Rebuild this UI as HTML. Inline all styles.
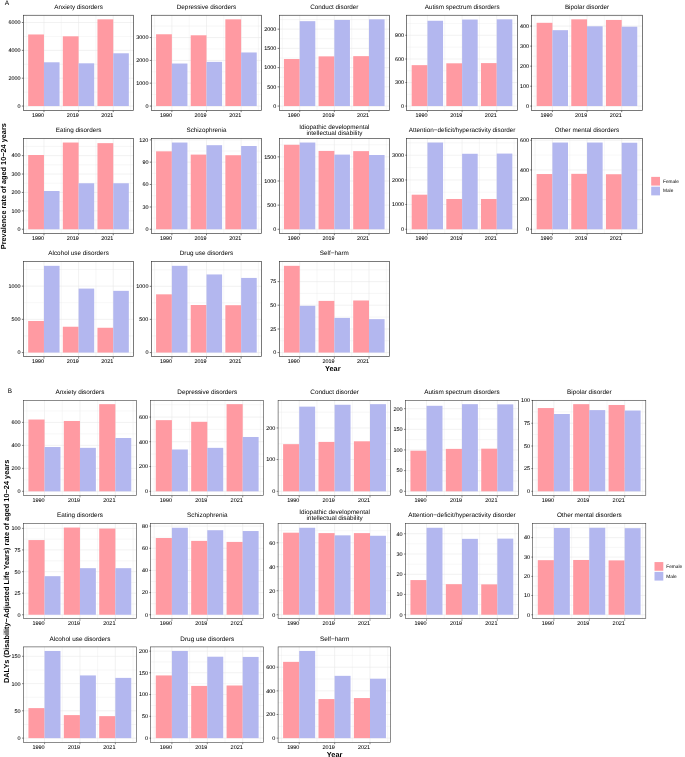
<!DOCTYPE html>
<html lang="en"><head><meta charset="utf-8"><title>Figure</title>
<style>html,body{margin:0;padding:0;background:#fff}svg{display:block}</style></head>
<body>
<svg width="685" height="757" viewBox="0 0 685 757" font-family="'Liberation Sans', sans-serif" text-rendering="geometricPrecision">
<rect width="685" height="757" fill="#fff"/>
<rect x="23.35" y="15.25" width="110.5" height="95.35" fill="#fff"/>
<path d="M23.35 36.43H133.85M23.35 64.29H133.85M23.35 92.14H133.85M26.64 15.25V110.6M61.28 15.25V110.6M95.92 15.25V110.6M130.56 15.25V110.6" stroke="#E9E9E9" stroke-width="0.35" fill="none"/>
<path d="M23.35 22.5H133.85M23.35 50.37H133.85M23.35 78.21H133.85M23.35 106.07H133.85M43.96 15.25V110.6M78.6 15.25V110.6M113.24 15.25V110.6" stroke="#E9E9E9" stroke-width="0.6" fill="none"/>
<rect x="28.17" y="34.47" width="15.79" height="71.59" fill="#FF9AA2"/>
<rect x="43.96" y="62.29" width="15.59" height="43.78" fill="#B3B7EF"/>
<rect x="62.81" y="36.31" width="15.79" height="69.75" fill="#FF9AA2"/>
<rect x="78.6" y="63.31" width="15.59" height="42.75" fill="#B3B7EF"/>
<rect x="97.45" y="19.33" width="15.79" height="86.73" fill="#FF9AA2"/>
<rect x="113.24" y="53.29" width="15.59" height="52.78" fill="#B3B7EF"/>
<rect x="23.5" y="15.25" width="110" height="95.25" fill="none" stroke="#333" stroke-width="0.65"/>
<path d="M21.85 22.5H23.35M21.85 50.37H23.35M21.85 78.21H23.35M21.85 106.07H23.35M43.96 110.6V112.1M78.6 110.6V112.1M113.24 110.6V112.1" stroke="#333" stroke-width="0.65" fill="none"/>
<text x="20.5" y="107.92" text-anchor="end" font-size="5.42" fill="#000" stroke="#000" stroke-width="0.06">0</text>
<text x="20.5" y="80.06" text-anchor="end" font-size="5.42" fill="#000" stroke="#000" stroke-width="0.06">2000</text>
<text x="20.5" y="52.22" text-anchor="end" font-size="5.42" fill="#000" stroke="#000" stroke-width="0.06">4000</text>
<text x="20.5" y="24.35" text-anchor="end" font-size="5.42" fill="#000" stroke="#000" stroke-width="0.06">6000</text>
<text x="44.06" y="116.7" text-anchor="end" font-size="5.42" fill="#000" stroke="#000" stroke-width="0.06">1990</text>
<text x="78.7" y="116.7" text-anchor="end" font-size="5.42" fill="#000" stroke="#000" stroke-width="0.06">2019</text>
<text x="113.34" y="116.7" text-anchor="end" font-size="5.42" fill="#000" stroke="#000" stroke-width="0.06">2021</text>
<text x="78.6" y="8.6" text-anchor="middle" font-size="6.33" fill="#000">Anxiety disorders</text>
<rect x="151.25" y="15.25" width="110.5" height="95.35" fill="#fff"/>
<path d="M151.25 48.99H261.75M151.25 71.8H261.75M151.25 94.61H261.75M151.25 26.08H261.75M154.54 15.25V110.6M189.18 15.25V110.6M223.82 15.25V110.6M258.46 15.25V110.6" stroke="#E9E9E9" stroke-width="0.35" fill="none"/>
<path d="M151.25 37.54H261.75M151.25 60.45H261.75M151.25 83.16H261.75M151.25 106.07H261.75M171.86 15.25V110.6M206.5 15.25V110.6M241.14 15.25V110.6" stroke="#E9E9E9" stroke-width="0.6" fill="none"/>
<rect x="156.07" y="34.27" width="15.79" height="71.8" fill="#FF9AA2"/>
<rect x="171.86" y="63.52" width="15.59" height="42.55" fill="#B3B7EF"/>
<rect x="190.71" y="35.29" width="15.79" height="70.78" fill="#FF9AA2"/>
<rect x="206.5" y="61.88" width="15.59" height="44.18" fill="#B3B7EF"/>
<rect x="225.35" y="19.33" width="15.79" height="86.73" fill="#FF9AA2"/>
<rect x="241.14" y="52.47" width="15.59" height="53.59" fill="#B3B7EF"/>
<rect x="151.5" y="15.25" width="110" height="95.25" fill="none" stroke="#333" stroke-width="0.65"/>
<path d="M149.75 37.54H151.25M149.75 60.45H151.25M149.75 83.16H151.25M149.75 106.07H151.25M171.86 110.6V112.1M206.5 110.6V112.1M241.14 110.6V112.1" stroke="#333" stroke-width="0.65" fill="none"/>
<text x="148.4" y="107.92" text-anchor="end" font-size="5.42" fill="#000" stroke="#000" stroke-width="0.06">0</text>
<text x="148.4" y="85.01" text-anchor="end" font-size="5.42" fill="#000" stroke="#000" stroke-width="0.06">1000</text>
<text x="148.4" y="62.3" text-anchor="end" font-size="5.42" fill="#000" stroke="#000" stroke-width="0.06">2000</text>
<text x="148.4" y="39.39" text-anchor="end" font-size="5.42" fill="#000" stroke="#000" stroke-width="0.06">3000</text>
<text x="171.96" y="116.7" text-anchor="end" font-size="5.42" fill="#000" stroke="#000" stroke-width="0.06">1990</text>
<text x="206.6" y="116.7" text-anchor="end" font-size="5.42" fill="#000" stroke="#000" stroke-width="0.06">2019</text>
<text x="241.24" y="116.7" text-anchor="end" font-size="5.42" fill="#000" stroke="#000" stroke-width="0.06">2021</text>
<text x="206.5" y="8.6" text-anchor="middle" font-size="6.33" fill="#000">Depressive disorders</text>
<rect x="279.1" y="15.25" width="110.5" height="95.35" fill="#fff"/>
<path d="M279.1 38.77H389.6M279.1 58H389.6M279.1 77.22H389.6M279.1 96.45H389.6M279.1 19.54H389.6M282.39 15.25V110.6M317.03 15.25V110.6M351.67 15.25V110.6M386.31 15.25V110.6" stroke="#E9E9E9" stroke-width="0.35" fill="none"/>
<path d="M279.1 29.15H389.6M279.1 48.38H389.6M279.1 67.61H389.6M279.1 86.84H389.6M279.1 106.07H389.6M299.71 15.25V110.6M334.35 15.25V110.6M368.99 15.25V110.6" stroke="#E9E9E9" stroke-width="0.6" fill="none"/>
<rect x="283.92" y="59.02" width="15.79" height="47.05" fill="#FF9AA2"/>
<rect x="299.71" y="21.18" width="15.59" height="84.89" fill="#B3B7EF"/>
<rect x="318.56" y="56.36" width="15.79" height="49.71" fill="#FF9AA2"/>
<rect x="334.35" y="19.95" width="15.59" height="86.12" fill="#B3B7EF"/>
<rect x="353.2" y="56.15" width="15.79" height="49.91" fill="#FF9AA2"/>
<rect x="368.99" y="19.33" width="15.59" height="86.73" fill="#B3B7EF"/>
<rect x="279.5" y="15.25" width="110" height="95.25" fill="none" stroke="#333" stroke-width="0.65"/>
<path d="M277.6 29.15H279.1M277.6 48.38H279.1M277.6 67.61H279.1M277.6 86.84H279.1M277.6 106.07H279.1M299.71 110.6V112.1M334.35 110.6V112.1M368.99 110.6V112.1" stroke="#333" stroke-width="0.65" fill="none"/>
<text x="276.25" y="107.92" text-anchor="end" font-size="5.42" fill="#000" stroke="#000" stroke-width="0.06">0</text>
<text x="276.25" y="88.69" text-anchor="end" font-size="5.42" fill="#000" stroke="#000" stroke-width="0.06">500</text>
<text x="276.25" y="69.46" text-anchor="end" font-size="5.42" fill="#000" stroke="#000" stroke-width="0.06">1000</text>
<text x="276.25" y="50.23" text-anchor="end" font-size="5.42" fill="#000" stroke="#000" stroke-width="0.06">1500</text>
<text x="276.25" y="31" text-anchor="end" font-size="5.42" fill="#000" stroke="#000" stroke-width="0.06">2000</text>
<text x="299.81" y="116.7" text-anchor="end" font-size="5.42" fill="#000" stroke="#000" stroke-width="0.06">1990</text>
<text x="334.45" y="116.7" text-anchor="end" font-size="5.42" fill="#000" stroke="#000" stroke-width="0.06">2019</text>
<text x="369.09" y="116.7" text-anchor="end" font-size="5.42" fill="#000" stroke="#000" stroke-width="0.06">2021</text>
<text x="334.35" y="8.6" text-anchor="middle" font-size="6.33" fill="#000">Conduct disorder</text>
<rect x="406.85" y="15.25" width="110.5" height="95.35" fill="#fff"/>
<path d="M406.85 47.15H517.35M406.85 70.78H517.35M406.85 94.3H517.35M406.85 23.43H517.35M410.14 15.25V110.6M444.78 15.25V110.6M479.42 15.25V110.6M514.06 15.25V110.6" stroke="#E9E9E9" stroke-width="0.35" fill="none"/>
<path d="M406.85 35.29H517.35M406.85 59.02H517.35M406.85 82.54H517.35M406.85 106.07H517.35M427.46 15.25V110.6M462.1 15.25V110.6M496.74 15.25V110.6" stroke="#E9E9E9" stroke-width="0.6" fill="none"/>
<rect x="411.67" y="65.15" width="15.79" height="40.91" fill="#FF9AA2"/>
<rect x="427.46" y="20.77" width="15.59" height="85.3" fill="#B3B7EF"/>
<rect x="446.31" y="63.31" width="15.79" height="42.75" fill="#FF9AA2"/>
<rect x="462.1" y="19.54" width="15.59" height="86.53" fill="#B3B7EF"/>
<rect x="480.95" y="63.11" width="15.79" height="42.96" fill="#FF9AA2"/>
<rect x="496.74" y="19.33" width="15.59" height="86.73" fill="#B3B7EF"/>
<rect x="406.5" y="15.25" width="111" height="95.25" fill="none" stroke="#333" stroke-width="0.65"/>
<path d="M405.35 35.29H406.85M405.35 59.02H406.85M405.35 82.54H406.85M405.35 106.07H406.85M427.46 110.6V112.1M462.1 110.6V112.1M496.74 110.6V112.1" stroke="#333" stroke-width="0.65" fill="none"/>
<text x="404" y="107.92" text-anchor="end" font-size="5.42" fill="#000" stroke="#000" stroke-width="0.06">0</text>
<text x="404" y="84.39" text-anchor="end" font-size="5.42" fill="#000" stroke="#000" stroke-width="0.06">300</text>
<text x="404" y="60.87" text-anchor="end" font-size="5.42" fill="#000" stroke="#000" stroke-width="0.06">600</text>
<text x="404" y="37.14" text-anchor="end" font-size="5.42" fill="#000" stroke="#000" stroke-width="0.06">900</text>
<text x="427.56" y="116.7" text-anchor="end" font-size="5.42" fill="#000" stroke="#000" stroke-width="0.06">1990</text>
<text x="462.2" y="116.7" text-anchor="end" font-size="5.42" fill="#000" stroke="#000" stroke-width="0.06">2019</text>
<text x="496.84" y="116.7" text-anchor="end" font-size="5.42" fill="#000" stroke="#000" stroke-width="0.06">2021</text>
<text x="462.1" y="8.6" text-anchor="middle" font-size="6.33" fill="#000">Autism spectrum disorders</text>
<rect x="531.8" y="15.25" width="110.5" height="95.35" fill="#fff"/>
<path d="M531.8 36.11H642.3M531.8 56.15H642.3M531.8 76.2H642.3M531.8 96.14H642.3M531.8 16.06H642.3M535.09 15.25V110.6M569.73 15.25V110.6M604.37 15.25V110.6M639.01 15.25V110.6" stroke="#E9E9E9" stroke-width="0.35" fill="none"/>
<path d="M531.8 26.08H642.3M531.8 46.13H642.3M531.8 66.18H642.3M531.8 86.22H642.3M531.8 106.07H642.3M552.41 15.25V110.6M587.05 15.25V110.6M621.69 15.25V110.6" stroke="#E9E9E9" stroke-width="0.6" fill="none"/>
<rect x="536.62" y="22.81" width="15.79" height="83.25" fill="#FF9AA2"/>
<rect x="552.41" y="30.18" width="15.59" height="75.89" fill="#B3B7EF"/>
<rect x="571.26" y="19.33" width="15.79" height="86.73" fill="#FF9AA2"/>
<rect x="587.05" y="26.29" width="15.59" height="79.78" fill="#B3B7EF"/>
<rect x="605.9" y="19.95" width="15.79" height="86.12" fill="#FF9AA2"/>
<rect x="621.69" y="26.7" width="15.59" height="79.37" fill="#B3B7EF"/>
<rect x="531.5" y="15.25" width="111" height="95.25" fill="none" stroke="#333" stroke-width="0.65"/>
<path d="M530.3 26.08H531.8M530.3 46.13H531.8M530.3 66.18H531.8M530.3 86.22H531.8M530.3 106.07H531.8M552.41 110.6V112.1M587.05 110.6V112.1M621.69 110.6V112.1" stroke="#333" stroke-width="0.65" fill="none"/>
<text x="528.95" y="107.92" text-anchor="end" font-size="5.42" fill="#000" stroke="#000" stroke-width="0.06">0</text>
<text x="528.95" y="88.07" text-anchor="end" font-size="5.42" fill="#000" stroke="#000" stroke-width="0.06">100</text>
<text x="528.95" y="68.03" text-anchor="end" font-size="5.42" fill="#000" stroke="#000" stroke-width="0.06">200</text>
<text x="528.95" y="47.98" text-anchor="end" font-size="5.42" fill="#000" stroke="#000" stroke-width="0.06">300</text>
<text x="528.95" y="27.93" text-anchor="end" font-size="5.42" fill="#000" stroke="#000" stroke-width="0.06">400</text>
<text x="552.51" y="116.7" text-anchor="end" font-size="5.42" fill="#000" stroke="#000" stroke-width="0.06">1990</text>
<text x="587.15" y="116.7" text-anchor="end" font-size="5.42" fill="#000" stroke="#000" stroke-width="0.06">2019</text>
<text x="621.79" y="116.7" text-anchor="end" font-size="5.42" fill="#000" stroke="#000" stroke-width="0.06">2021</text>
<text x="587.05" y="8.6" text-anchor="middle" font-size="6.33" fill="#000">Bipolar disorder</text>
<rect x="23.35" y="138.45" width="110.5" height="95.35" fill="#fff"/>
<path d="M23.35 164.83H133.85M23.35 183.24H133.85M23.35 201.65H133.85M23.35 220.06H133.85M23.35 146.42H133.85M26.64 138.45V233.8M61.28 138.45V233.8M95.92 138.45V233.8M130.56 138.45V233.8" stroke="#E9E9E9" stroke-width="0.35" fill="none"/>
<path d="M23.35 155.63H133.85M23.35 174.04H133.85M23.35 192.45H133.85M23.35 210.86H133.85M23.35 229.27H133.85M43.96 138.45V233.8M78.6 138.45V233.8M113.24 138.45V233.8" stroke="#E9E9E9" stroke-width="0.6" fill="none"/>
<rect x="28.17" y="155.01" width="15.79" height="74.25" fill="#FF9AA2"/>
<rect x="43.96" y="191.01" width="15.59" height="38.25" fill="#B3B7EF"/>
<rect x="62.81" y="142.53" width="15.79" height="86.73" fill="#FF9AA2"/>
<rect x="78.6" y="183.24" width="15.59" height="46.03" fill="#B3B7EF"/>
<rect x="97.45" y="143.15" width="15.79" height="86.12" fill="#FF9AA2"/>
<rect x="113.24" y="183.24" width="15.59" height="46.03" fill="#B3B7EF"/>
<rect x="23.5" y="138.45" width="110" height="95.05" fill="none" stroke="#333" stroke-width="0.65"/>
<path d="M21.85 155.63H23.35M21.85 174.04H23.35M21.85 192.45H23.35M21.85 210.86H23.35M21.85 229.27H23.35M43.96 233.8V235.3M78.6 233.8V235.3M113.24 233.8V235.3" stroke="#333" stroke-width="0.65" fill="none"/>
<text x="20.5" y="231.12" text-anchor="end" font-size="5.42" fill="#000" stroke="#000" stroke-width="0.06">0</text>
<text x="20.5" y="212.71" text-anchor="end" font-size="5.42" fill="#000" stroke="#000" stroke-width="0.06">100</text>
<text x="20.5" y="194.3" text-anchor="end" font-size="5.42" fill="#000" stroke="#000" stroke-width="0.06">200</text>
<text x="20.5" y="175.89" text-anchor="end" font-size="5.42" fill="#000" stroke="#000" stroke-width="0.06">300</text>
<text x="20.5" y="157.48" text-anchor="end" font-size="5.42" fill="#000" stroke="#000" stroke-width="0.06">400</text>
<text x="44.06" y="239.9" text-anchor="end" font-size="5.42" fill="#000" stroke="#000" stroke-width="0.06">1990</text>
<text x="78.7" y="239.9" text-anchor="end" font-size="5.42" fill="#000" stroke="#000" stroke-width="0.06">2019</text>
<text x="113.34" y="239.9" text-anchor="end" font-size="5.42" fill="#000" stroke="#000" stroke-width="0.06">2021</text>
<text x="78.6" y="131.8" text-anchor="middle" font-size="6.33" fill="#000">Eating disorders</text>
<rect x="151.25" y="138.45" width="110.5" height="95.35" fill="#fff"/>
<path d="M151.25 151.02H261.75M151.25 173.32H261.75M151.25 195.72H261.75M151.25 218.12H261.75M154.54 138.45V233.8M189.18 138.45V233.8M223.82 138.45V233.8M258.46 138.45V233.8" stroke="#E9E9E9" stroke-width="0.35" fill="none"/>
<path d="M151.25 139.87H261.75M151.25 162.17H261.75M151.25 184.47H261.75M151.25 206.97H261.75M151.25 229.27H261.75M171.86 138.45V233.8M206.5 138.45V233.8M241.14 138.45V233.8" stroke="#E9E9E9" stroke-width="0.6" fill="none"/>
<rect x="156.07" y="151.33" width="15.79" height="77.94" fill="#FF9AA2"/>
<rect x="171.86" y="142.53" width="15.59" height="86.73" fill="#B3B7EF"/>
<rect x="190.71" y="154.6" width="15.79" height="74.66" fill="#FF9AA2"/>
<rect x="206.5" y="145.19" width="15.59" height="84.07" fill="#B3B7EF"/>
<rect x="225.35" y="155.22" width="15.79" height="74.05" fill="#FF9AA2"/>
<rect x="241.14" y="146.01" width="15.59" height="83.25" fill="#B3B7EF"/>
<rect x="151.5" y="138.45" width="110" height="95.05" fill="none" stroke="#333" stroke-width="0.65"/>
<path d="M149.75 139.87H151.25M149.75 162.17H151.25M149.75 184.47H151.25M149.75 206.97H151.25M149.75 229.27H151.25M171.86 233.8V235.3M206.5 233.8V235.3M241.14 233.8V235.3" stroke="#333" stroke-width="0.65" fill="none"/>
<text x="148.4" y="231.12" text-anchor="end" font-size="5.42" fill="#000" stroke="#000" stroke-width="0.06">0</text>
<text x="148.4" y="208.82" text-anchor="end" font-size="5.42" fill="#000" stroke="#000" stroke-width="0.06">30</text>
<text x="148.4" y="186.32" text-anchor="end" font-size="5.42" fill="#000" stroke="#000" stroke-width="0.06">60</text>
<text x="148.4" y="164.02" text-anchor="end" font-size="5.42" fill="#000" stroke="#000" stroke-width="0.06">90</text>
<text x="148.4" y="141.72" text-anchor="end" font-size="5.42" fill="#000" stroke="#000" stroke-width="0.06">120</text>
<text x="171.96" y="239.9" text-anchor="end" font-size="5.42" fill="#000" stroke="#000" stroke-width="0.06">1990</text>
<text x="206.6" y="239.9" text-anchor="end" font-size="5.42" fill="#000" stroke="#000" stroke-width="0.06">2019</text>
<text x="241.24" y="239.9" text-anchor="end" font-size="5.42" fill="#000" stroke="#000" stroke-width="0.06">2021</text>
<text x="206.5" y="131.8" text-anchor="middle" font-size="6.33" fill="#000">Schizophrenia</text>
<rect x="279.1" y="138.45" width="110.5" height="95.35" fill="#fff"/>
<path d="M279.1 168.92H389.6M279.1 193.06H389.6M279.1 217.2H389.6M279.1 144.78H389.6M282.39 138.45V233.8M317.03 138.45V233.8M351.67 138.45V233.8M386.31 138.45V233.8" stroke="#E9E9E9" stroke-width="0.35" fill="none"/>
<path d="M279.1 156.85H389.6M279.1 180.99H389.6M279.1 205.13H389.6M279.1 229.27H389.6M299.71 138.45V233.8M334.35 138.45V233.8M368.99 138.45V233.8" stroke="#E9E9E9" stroke-width="0.6" fill="none"/>
<rect x="283.92" y="144.78" width="15.79" height="84.48" fill="#FF9AA2"/>
<rect x="299.71" y="142.53" width="15.59" height="86.73" fill="#B3B7EF"/>
<rect x="318.56" y="150.92" width="15.79" height="78.35" fill="#FF9AA2"/>
<rect x="334.35" y="154.6" width="15.59" height="74.66" fill="#B3B7EF"/>
<rect x="353.2" y="151.13" width="15.79" height="78.14" fill="#FF9AA2"/>
<rect x="368.99" y="155.01" width="15.59" height="74.25" fill="#B3B7EF"/>
<rect x="279.5" y="138.45" width="110" height="95.05" fill="none" stroke="#333" stroke-width="0.65"/>
<path d="M277.6 156.85H279.1M277.6 180.99H279.1M277.6 205.13H279.1M277.6 229.27H279.1M299.71 233.8V235.3M334.35 233.8V235.3M368.99 233.8V235.3" stroke="#333" stroke-width="0.65" fill="none"/>
<text x="276.25" y="231.12" text-anchor="end" font-size="5.42" fill="#000" stroke="#000" stroke-width="0.06">0</text>
<text x="276.25" y="206.98" text-anchor="end" font-size="5.42" fill="#000" stroke="#000" stroke-width="0.06">500</text>
<text x="276.25" y="182.84" text-anchor="end" font-size="5.42" fill="#000" stroke="#000" stroke-width="0.06">1000</text>
<text x="276.25" y="158.7" text-anchor="end" font-size="5.42" fill="#000" stroke="#000" stroke-width="0.06">1500</text>
<text x="299.81" y="239.9" text-anchor="end" font-size="5.42" fill="#000" stroke="#000" stroke-width="0.06">1990</text>
<text x="334.45" y="239.9" text-anchor="end" font-size="5.42" fill="#000" stroke="#000" stroke-width="0.06">2019</text>
<text x="369.09" y="239.9" text-anchor="end" font-size="5.42" fill="#000" stroke="#000" stroke-width="0.06">2021</text>
<text x="334.35" y="128.75" text-anchor="middle" font-size="6.33" fill="#000">Idiopathic developmental</text>
<text x="334.35" y="135.45" text-anchor="middle" font-size="6.33" fill="#000">intellectual disability</text>
<rect x="406.85" y="138.45" width="110.5" height="95.35" fill="#fff"/>
<path d="M406.85 167.59H517.35M406.85 192.24H517.35M406.85 216.89H517.35M406.85 142.84H517.35M410.14 138.45V233.8M444.78 138.45V233.8M479.42 138.45V233.8M514.06 138.45V233.8" stroke="#E9E9E9" stroke-width="0.35" fill="none"/>
<path d="M406.85 155.22H517.35M406.85 179.97H517.35M406.85 204.51H517.35M406.85 229.27H517.35M427.46 138.45V233.8M462.1 138.45V233.8M496.74 138.45V233.8" stroke="#E9E9E9" stroke-width="0.6" fill="none"/>
<rect x="411.67" y="194.7" width="15.79" height="34.57" fill="#FF9AA2"/>
<rect x="427.46" y="142.53" width="15.59" height="86.73" fill="#B3B7EF"/>
<rect x="446.31" y="198.99" width="15.79" height="30.27" fill="#FF9AA2"/>
<rect x="462.1" y="153.78" width="15.59" height="75.48" fill="#B3B7EF"/>
<rect x="480.95" y="198.99" width="15.79" height="30.27" fill="#FF9AA2"/>
<rect x="496.74" y="153.58" width="15.59" height="75.69" fill="#B3B7EF"/>
<rect x="406.5" y="138.45" width="111" height="95.05" fill="none" stroke="#333" stroke-width="0.65"/>
<path d="M405.35 155.22H406.85M405.35 179.97H406.85M405.35 204.51H406.85M405.35 229.27H406.85M427.46 233.8V235.3M462.1 233.8V235.3M496.74 233.8V235.3" stroke="#333" stroke-width="0.65" fill="none"/>
<text x="404" y="231.12" text-anchor="end" font-size="5.42" fill="#000" stroke="#000" stroke-width="0.06">0</text>
<text x="404" y="206.36" text-anchor="end" font-size="5.42" fill="#000" stroke="#000" stroke-width="0.06">1000</text>
<text x="404" y="181.82" text-anchor="end" font-size="5.42" fill="#000" stroke="#000" stroke-width="0.06">2000</text>
<text x="404" y="157.07" text-anchor="end" font-size="5.42" fill="#000" stroke="#000" stroke-width="0.06">3000</text>
<text x="427.56" y="239.9" text-anchor="end" font-size="5.42" fill="#000" stroke="#000" stroke-width="0.06">1990</text>
<text x="462.2" y="239.9" text-anchor="end" font-size="5.42" fill="#000" stroke="#000" stroke-width="0.06">2019</text>
<text x="496.84" y="239.9" text-anchor="end" font-size="5.42" fill="#000" stroke="#000" stroke-width="0.06">2021</text>
<text x="462.1" y="131.8" text-anchor="middle" font-size="6.33" fill="#000">Attention−deficit/hyperactivity disorder</text>
<rect x="531.8" y="138.45" width="110.5" height="95.35" fill="#fff"/>
<path d="M531.8 155.11H642.3M531.8 184.77H642.3M531.8 214.44H642.3M535.09 138.45V233.8M569.73 138.45V233.8M604.37 138.45V233.8M639.01 138.45V233.8" stroke="#E9E9E9" stroke-width="0.35" fill="none"/>
<path d="M531.8 140.28H642.3M531.8 169.94H642.3M531.8 199.61H642.3M531.8 229.27H642.3M552.41 138.45V233.8M587.05 138.45V233.8M621.69 138.45V233.8" stroke="#E9E9E9" stroke-width="0.6" fill="none"/>
<rect x="536.62" y="174.04" width="15.79" height="55.23" fill="#FF9AA2"/>
<rect x="552.41" y="142.53" width="15.59" height="86.73" fill="#B3B7EF"/>
<rect x="571.26" y="173.83" width="15.79" height="55.43" fill="#FF9AA2"/>
<rect x="587.05" y="142.53" width="15.59" height="86.73" fill="#B3B7EF"/>
<rect x="605.9" y="174.24" width="15.79" height="55.03" fill="#FF9AA2"/>
<rect x="621.69" y="142.74" width="15.59" height="86.53" fill="#B3B7EF"/>
<rect x="531.5" y="138.45" width="111" height="95.05" fill="none" stroke="#333" stroke-width="0.65"/>
<path d="M530.3 140.28H531.8M530.3 169.94H531.8M530.3 199.61H531.8M530.3 229.27H531.8M552.41 233.8V235.3M587.05 233.8V235.3M621.69 233.8V235.3" stroke="#333" stroke-width="0.65" fill="none"/>
<text x="528.95" y="231.12" text-anchor="end" font-size="5.42" fill="#000" stroke="#000" stroke-width="0.06">0</text>
<text x="528.95" y="201.46" text-anchor="end" font-size="5.42" fill="#000" stroke="#000" stroke-width="0.06">200</text>
<text x="528.95" y="171.79" text-anchor="end" font-size="5.42" fill="#000" stroke="#000" stroke-width="0.06">400</text>
<text x="528.95" y="142.13" text-anchor="end" font-size="5.42" fill="#000" stroke="#000" stroke-width="0.06">600</text>
<text x="552.51" y="239.9" text-anchor="end" font-size="5.42" fill="#000" stroke="#000" stroke-width="0.06">1990</text>
<text x="587.15" y="239.9" text-anchor="end" font-size="5.42" fill="#000" stroke="#000" stroke-width="0.06">2019</text>
<text x="621.79" y="239.9" text-anchor="end" font-size="5.42" fill="#000" stroke="#000" stroke-width="0.06">2021</text>
<text x="587.05" y="131.8" text-anchor="middle" font-size="6.33" fill="#000">Other mental disorders</text>
<rect x="23.35" y="261.75" width="110.5" height="95.35" fill="#fff"/>
<path d="M23.35 302.74H133.85M23.35 335.96H133.85M23.35 269.52H133.85M26.64 261.75V357.1M61.28 261.75V357.1M95.92 261.75V357.1M130.56 261.75V357.1" stroke="#E9E9E9" stroke-width="0.35" fill="none"/>
<path d="M23.35 286.13H133.85M23.35 319.35H133.85M23.35 352.57H133.85M43.96 261.75V357.1M78.6 261.75V357.1M113.24 261.75V357.1" stroke="#E9E9E9" stroke-width="0.6" fill="none"/>
<rect x="28.17" y="320.99" width="15.79" height="31.58" fill="#FF9AA2"/>
<rect x="43.96" y="265.83" width="15.59" height="86.73" fill="#B3B7EF"/>
<rect x="62.81" y="326.73" width="15.79" height="25.84" fill="#FF9AA2"/>
<rect x="78.6" y="288.59" width="15.59" height="63.97" fill="#B3B7EF"/>
<rect x="97.45" y="327.76" width="15.79" height="24.81" fill="#FF9AA2"/>
<rect x="113.24" y="290.85" width="15.59" height="61.72" fill="#B3B7EF"/>
<rect x="23.5" y="261.55" width="110" height="95" fill="none" stroke="#333" stroke-width="0.65"/>
<path d="M21.85 286.13H23.35M21.85 319.35H23.35M21.85 352.57H23.35M43.96 357.1V358.6M78.6 357.1V358.6M113.24 357.1V358.6" stroke="#333" stroke-width="0.65" fill="none"/>
<text x="20.5" y="354.42" text-anchor="end" font-size="5.42" fill="#000" stroke="#000" stroke-width="0.06">0</text>
<text x="20.5" y="321.2" text-anchor="end" font-size="5.42" fill="#000" stroke="#000" stroke-width="0.06">500</text>
<text x="20.5" y="287.98" text-anchor="end" font-size="5.42" fill="#000" stroke="#000" stroke-width="0.06">1000</text>
<text x="44.06" y="363.2" text-anchor="end" font-size="5.42" fill="#000" stroke="#000" stroke-width="0.06">1990</text>
<text x="78.7" y="363.2" text-anchor="end" font-size="5.42" fill="#000" stroke="#000" stroke-width="0.06">2019</text>
<text x="113.34" y="363.2" text-anchor="end" font-size="5.42" fill="#000" stroke="#000" stroke-width="0.06">2021</text>
<text x="78.6" y="255.1" text-anchor="middle" font-size="6.33" fill="#000">Alcohol use disorders</text>
<rect x="151.25" y="261.75" width="110.5" height="95.35" fill="#fff"/>
<path d="M151.25 302.84H261.75M151.25 335.96H261.75M151.25 269.83H261.75M154.54 261.75V357.1M189.18 261.75V357.1M223.82 261.75V357.1M258.46 261.75V357.1" stroke="#E9E9E9" stroke-width="0.35" fill="none"/>
<path d="M151.25 286.34H261.75M151.25 319.35H261.75M151.25 352.57H261.75M171.86 261.75V357.1M206.5 261.75V357.1M241.14 261.75V357.1" stroke="#E9E9E9" stroke-width="0.6" fill="none"/>
<rect x="156.07" y="294.33" width="15.79" height="58.23" fill="#FF9AA2"/>
<rect x="171.86" y="265.83" width="15.59" height="86.73" fill="#B3B7EF"/>
<rect x="190.71" y="305" width="15.79" height="47.57" fill="#FF9AA2"/>
<rect x="206.5" y="274.45" width="15.59" height="78.12" fill="#B3B7EF"/>
<rect x="225.35" y="305.2" width="15.79" height="47.36" fill="#FF9AA2"/>
<rect x="241.14" y="277.93" width="15.59" height="74.63" fill="#B3B7EF"/>
<rect x="151.5" y="261.55" width="110" height="95" fill="none" stroke="#333" stroke-width="0.65"/>
<path d="M149.75 286.34H151.25M149.75 319.35H151.25M149.75 352.57H151.25M171.86 357.1V358.6M206.5 357.1V358.6M241.14 357.1V358.6" stroke="#333" stroke-width="0.65" fill="none"/>
<text x="148.4" y="354.42" text-anchor="end" font-size="5.42" fill="#000" stroke="#000" stroke-width="0.06">0</text>
<text x="148.4" y="321.2" text-anchor="end" font-size="5.42" fill="#000" stroke="#000" stroke-width="0.06">500</text>
<text x="148.4" y="288.19" text-anchor="end" font-size="5.42" fill="#000" stroke="#000" stroke-width="0.06">1000</text>
<text x="171.96" y="363.2" text-anchor="end" font-size="5.42" fill="#000" stroke="#000" stroke-width="0.06">1990</text>
<text x="206.6" y="363.2" text-anchor="end" font-size="5.42" fill="#000" stroke="#000" stroke-width="0.06">2019</text>
<text x="241.24" y="363.2" text-anchor="end" font-size="5.42" fill="#000" stroke="#000" stroke-width="0.06">2021</text>
<text x="206.5" y="255.1" text-anchor="middle" font-size="6.33" fill="#000">Drug use disorders</text>
<rect x="279.1" y="261.75" width="110.5" height="95.35" fill="#fff"/>
<path d="M279.1 293.41H389.6M279.1 317.09H389.6M279.1 340.78H389.6M279.1 269.83H389.6M282.39 261.75V357.1M317.03 261.75V357.1M351.67 261.75V357.1M386.31 261.75V357.1" stroke="#E9E9E9" stroke-width="0.35" fill="none"/>
<path d="M279.1 281.62H389.6M279.1 305.2H389.6M279.1 328.99H389.6M279.1 352.57H389.6M299.71 261.75V357.1M334.35 261.75V357.1M368.99 261.75V357.1" stroke="#E9E9E9" stroke-width="0.6" fill="none"/>
<rect x="283.92" y="265.83" width="15.79" height="86.73" fill="#FF9AA2"/>
<rect x="299.71" y="305.82" width="15.59" height="46.75" fill="#B3B7EF"/>
<rect x="318.56" y="300.9" width="15.79" height="51.67" fill="#FF9AA2"/>
<rect x="334.35" y="317.91" width="15.59" height="34.65" fill="#B3B7EF"/>
<rect x="353.2" y="300.49" width="15.79" height="52.08" fill="#FF9AA2"/>
<rect x="368.99" y="319.14" width="15.59" height="33.42" fill="#B3B7EF"/>
<rect x="279.5" y="261.55" width="110" height="95" fill="none" stroke="#333" stroke-width="0.65"/>
<path d="M277.6 281.62H279.1M277.6 305.2H279.1M277.6 328.99H279.1M277.6 352.57H279.1M299.71 357.1V358.6M334.35 357.1V358.6M368.99 357.1V358.6" stroke="#333" stroke-width="0.65" fill="none"/>
<text x="276.25" y="354.42" text-anchor="end" font-size="5.42" fill="#000" stroke="#000" stroke-width="0.06">0</text>
<text x="276.25" y="330.84" text-anchor="end" font-size="5.42" fill="#000" stroke="#000" stroke-width="0.06">25</text>
<text x="276.25" y="307.05" text-anchor="end" font-size="5.42" fill="#000" stroke="#000" stroke-width="0.06">50</text>
<text x="276.25" y="283.47" text-anchor="end" font-size="5.42" fill="#000" stroke="#000" stroke-width="0.06">75</text>
<text x="299.81" y="363.2" text-anchor="end" font-size="5.42" fill="#000" stroke="#000" stroke-width="0.06">1990</text>
<text x="334.45" y="363.2" text-anchor="end" font-size="5.42" fill="#000" stroke="#000" stroke-width="0.06">2019</text>
<text x="369.09" y="363.2" text-anchor="end" font-size="5.42" fill="#000" stroke="#000" stroke-width="0.06">2021</text>
<text x="334.35" y="255.1" text-anchor="middle" font-size="6.33" fill="#000">Self−harm</text>
<text transform="translate(6.0 186.18) rotate(-90)" text-anchor="middle" font-size="7.33" font-weight="bold" fill="#000">Prevalence rate of aged 10−24 years</text>
<text x="332.82" y="371.3" text-anchor="middle" font-size="7.33" font-weight="bold" fill="#000">Year</text>
<text x="4.8" y="4.8" font-size="6.6" fill="#000">A</text>
<rect x="651.2" y="176.88" width="8.8" height="8.7" fill="#FF9AA2"/>
<rect x="651.2" y="186.68" width="8.8" height="8.7" fill="#B3B7EF"/>
<text x="663" y="182.98" font-size="4.77" fill="#000">Female</text>
<text x="663" y="192.38" font-size="4.77" fill="#000">Male</text>
<rect x="23.5" y="400.05" width="112.9" height="95.85" fill="#fff"/>
<path d="M23.5 433.9H136.4M23.5 456.88H136.4M23.5 479.86H136.4M23.5 410.93H136.4M26.86 400.05V495.9M62.25 400.05V495.9M97.65 400.05V495.9M133.04 400.05V495.9" stroke="#E9E9E9" stroke-width="0.35" fill="none"/>
<path d="M23.5 422.41H136.4M23.5 445.39H136.4M23.5 468.37H136.4M23.5 491.34H136.4M44.56 400.05V495.9M79.95 400.05V495.9M115.34 400.05V495.9" stroke="#E9E9E9" stroke-width="0.6" fill="none"/>
<rect x="28.43" y="419.54" width="16.13" height="71.8" fill="#FF9AA2"/>
<rect x="44.56" y="447.03" width="15.93" height="44.31" fill="#B3B7EF"/>
<rect x="63.82" y="420.98" width="16.13" height="70.36" fill="#FF9AA2"/>
<rect x="79.95" y="447.85" width="15.93" height="43.49" fill="#B3B7EF"/>
<rect x="99.22" y="404.16" width="16.13" height="87.19" fill="#FF9AA2"/>
<rect x="115.34" y="438.01" width="15.93" height="53.34" fill="#B3B7EF"/>
<rect x="23.5" y="400.6" width="113" height="94.8" fill="none" stroke="#333" stroke-width="0.56"/>
<path d="M22 422.41H23.5M22 445.39H23.5M22 468.37H23.5M22 491.34H23.5M44.56 495.9V497.4M79.95 495.9V497.4M115.34 495.9V497.4" stroke="#333" stroke-width="0.56" fill="none"/>
<text x="20.65" y="493.19" text-anchor="end" font-size="5.48" fill="#000" stroke="#000" stroke-width="0.06">0</text>
<text x="20.65" y="470.22" text-anchor="end" font-size="5.48" fill="#000" stroke="#000" stroke-width="0.06">200</text>
<text x="20.65" y="447.24" text-anchor="end" font-size="5.48" fill="#000" stroke="#000" stroke-width="0.06">400</text>
<text x="20.65" y="424.26" text-anchor="end" font-size="5.48" fill="#000" stroke="#000" stroke-width="0.06">600</text>
<text x="44.66" y="502" text-anchor="end" font-size="5.48" fill="#000" stroke="#000" stroke-width="0.06">1990</text>
<text x="80.05" y="502" text-anchor="end" font-size="5.48" fill="#000" stroke="#000" stroke-width="0.06">2019</text>
<text x="115.44" y="502" text-anchor="end" font-size="5.48" fill="#000" stroke="#000" stroke-width="0.06">2021</text>
<text x="79.95" y="394.05" text-anchor="middle" font-size="6.38" fill="#000">Anxiety disorders</text>
<rect x="150.85" y="400.05" width="112.9" height="95.85" fill="#fff"/>
<path d="M150.85 429.39H263.75M150.85 454.11H263.75M150.85 478.93H263.75M150.85 404.77H263.75M154.21 400.05V495.9M189.6 400.05V495.9M225 400.05V495.9M260.39 400.05V495.9" stroke="#E9E9E9" stroke-width="0.35" fill="none"/>
<path d="M150.85 417.08H263.75M150.85 441.7H263.75M150.85 466.52H263.75M150.85 491.34H263.75M171.91 400.05V495.9M207.3 400.05V495.9M242.69 400.05V495.9" stroke="#E9E9E9" stroke-width="0.6" fill="none"/>
<rect x="155.78" y="420.16" width="16.13" height="71.19" fill="#FF9AA2"/>
<rect x="171.91" y="449.49" width="15.93" height="41.85" fill="#B3B7EF"/>
<rect x="191.17" y="421.8" width="16.13" height="69.54" fill="#FF9AA2"/>
<rect x="207.3" y="447.85" width="15.93" height="43.49" fill="#B3B7EF"/>
<rect x="226.57" y="404.16" width="16.13" height="87.19" fill="#FF9AA2"/>
<rect x="242.69" y="436.98" width="15.93" height="54.36" fill="#B3B7EF"/>
<rect x="150.6" y="400.6" width="112.9" height="94.8" fill="none" stroke="#333" stroke-width="0.56"/>
<path d="M149.35 417.08H150.85M149.35 441.7H150.85M149.35 466.52H150.85M149.35 491.34H150.85M171.91 495.9V497.4M207.3 495.9V497.4M242.69 495.9V497.4" stroke="#333" stroke-width="0.56" fill="none"/>
<text x="148" y="493.19" text-anchor="end" font-size="5.48" fill="#000" stroke="#000" stroke-width="0.06">0</text>
<text x="148" y="468.37" text-anchor="end" font-size="5.48" fill="#000" stroke="#000" stroke-width="0.06">200</text>
<text x="148" y="443.55" text-anchor="end" font-size="5.48" fill="#000" stroke="#000" stroke-width="0.06">400</text>
<text x="148" y="418.93" text-anchor="end" font-size="5.48" fill="#000" stroke="#000" stroke-width="0.06">600</text>
<text x="172.01" y="502" text-anchor="end" font-size="5.48" fill="#000" stroke="#000" stroke-width="0.06">1990</text>
<text x="207.4" y="502" text-anchor="end" font-size="5.48" fill="#000" stroke="#000" stroke-width="0.06">2019</text>
<text x="242.79" y="502" text-anchor="end" font-size="5.48" fill="#000" stroke="#000" stroke-width="0.06">2021</text>
<text x="207.3" y="394.05" text-anchor="middle" font-size="6.38" fill="#000">Depressive disorders</text>
<rect x="278.17" y="400.05" width="112.9" height="95.85" fill="#fff"/>
<path d="M278.17 443.75H391.07M278.17 475.44H391.07M278.17 412.16H391.07M281.53 400.05V495.9M316.92 400.05V495.9M352.32 400.05V495.9M387.71 400.05V495.9" stroke="#E9E9E9" stroke-width="0.35" fill="none"/>
<path d="M278.17 427.95H391.07M278.17 459.55H391.07M278.17 491.34H391.07M299.23 400.05V495.9M334.62 400.05V495.9M370.01 400.05V495.9" stroke="#E9E9E9" stroke-width="0.6" fill="none"/>
<rect x="283.1" y="444.16" width="16.13" height="47.18" fill="#FF9AA2"/>
<rect x="299.23" y="406.62" width="15.93" height="84.72" fill="#B3B7EF"/>
<rect x="318.49" y="441.9" width="16.13" height="49.44" fill="#FF9AA2"/>
<rect x="334.62" y="404.77" width="15.93" height="86.57" fill="#B3B7EF"/>
<rect x="353.89" y="441.29" width="16.13" height="50.06" fill="#FF9AA2"/>
<rect x="370.01" y="404.16" width="15.93" height="87.19" fill="#B3B7EF"/>
<rect x="278.1" y="400.6" width="112.6" height="94.8" fill="none" stroke="#333" stroke-width="0.56"/>
<path d="M276.67 427.95H278.17M276.67 459.55H278.17M276.67 491.34H278.17M299.23 495.9V497.4M334.62 495.9V497.4M370.01 495.9V497.4" stroke="#333" stroke-width="0.56" fill="none"/>
<text x="275.32" y="493.19" text-anchor="end" font-size="5.48" fill="#000" stroke="#000" stroke-width="0.06">0</text>
<text x="275.32" y="461.4" text-anchor="end" font-size="5.48" fill="#000" stroke="#000" stroke-width="0.06">100</text>
<text x="275.32" y="429.8" text-anchor="end" font-size="5.48" fill="#000" stroke="#000" stroke-width="0.06">200</text>
<text x="299.33" y="502" text-anchor="end" font-size="5.48" fill="#000" stroke="#000" stroke-width="0.06">1990</text>
<text x="334.72" y="502" text-anchor="end" font-size="5.48" fill="#000" stroke="#000" stroke-width="0.06">2019</text>
<text x="370.11" y="502" text-anchor="end" font-size="5.48" fill="#000" stroke="#000" stroke-width="0.06">2021</text>
<text x="334.62" y="394.05" text-anchor="middle" font-size="6.38" fill="#000">Conduct disorder</text>
<rect x="405.5" y="400.05" width="112.9" height="95.85" fill="#fff"/>
<path d="M405.5 419.03H518.4M405.5 439.65H518.4M405.5 460.26H518.4M405.5 480.98H518.4M408.86 400.05V495.9M444.25 400.05V495.9M479.65 400.05V495.9M515.04 400.05V495.9" stroke="#E9E9E9" stroke-width="0.35" fill="none"/>
<path d="M405.5 408.67H518.4M405.5 429.39H518.4M405.5 449.9H518.4M405.5 470.62H518.4M405.5 491.34H518.4M426.56 400.05V495.9M461.95 400.05V495.9M497.34 400.05V495.9" stroke="#E9E9E9" stroke-width="0.6" fill="none"/>
<rect x="410.43" y="450.72" width="16.13" height="40.62" fill="#FF9AA2"/>
<rect x="426.56" y="405.8" width="15.93" height="85.55" fill="#B3B7EF"/>
<rect x="445.82" y="448.88" width="16.13" height="42.46" fill="#FF9AA2"/>
<rect x="461.95" y="404.16" width="15.93" height="87.19" fill="#B3B7EF"/>
<rect x="481.22" y="448.67" width="16.13" height="42.67" fill="#FF9AA2"/>
<rect x="497.34" y="404.36" width="15.93" height="86.98" fill="#B3B7EF"/>
<rect x="405.4" y="400.6" width="113" height="94.8" fill="none" stroke="#333" stroke-width="0.56"/>
<path d="M404 408.67H405.5M404 429.39H405.5M404 449.9H405.5M404 470.62H405.5M404 491.34H405.5M426.56 495.9V497.4M461.95 495.9V497.4M497.34 495.9V497.4" stroke="#333" stroke-width="0.56" fill="none"/>
<text x="402.65" y="493.19" text-anchor="end" font-size="5.48" fill="#000" stroke="#000" stroke-width="0.06">0</text>
<text x="402.65" y="472.47" text-anchor="end" font-size="5.48" fill="#000" stroke="#000" stroke-width="0.06">50</text>
<text x="402.65" y="451.75" text-anchor="end" font-size="5.48" fill="#000" stroke="#000" stroke-width="0.06">100</text>
<text x="402.65" y="431.24" text-anchor="end" font-size="5.48" fill="#000" stroke="#000" stroke-width="0.06">150</text>
<text x="402.65" y="410.52" text-anchor="end" font-size="5.48" fill="#000" stroke="#000" stroke-width="0.06">200</text>
<text x="426.66" y="502" text-anchor="end" font-size="5.48" fill="#000" stroke="#000" stroke-width="0.06">1990</text>
<text x="462.05" y="502" text-anchor="end" font-size="5.48" fill="#000" stroke="#000" stroke-width="0.06">2019</text>
<text x="497.44" y="502" text-anchor="end" font-size="5.48" fill="#000" stroke="#000" stroke-width="0.06">2021</text>
<text x="461.95" y="394.05" text-anchor="middle" font-size="6.38" fill="#000">Autism spectrum disorders</text>
<rect x="532.85" y="400.05" width="112.9" height="95.85" fill="#fff"/>
<path d="M532.85 411.85H645.75M532.85 434.62H645.75M532.85 457.29H645.75M532.85 479.96H645.75M536.21 400.05V495.9M571.6 400.05V495.9M607 400.05V495.9M642.39 400.05V495.9" stroke="#E9E9E9" stroke-width="0.35" fill="none"/>
<path d="M532.85 400.46H645.75M532.85 423.24H645.75M532.85 446.01H645.75M532.85 468.57H645.75M532.85 491.34H645.75M553.91 400.05V495.9M589.3 400.05V495.9M624.69 400.05V495.9" stroke="#E9E9E9" stroke-width="0.6" fill="none"/>
<rect x="537.78" y="408.05" width="16.13" height="83.29" fill="#FF9AA2"/>
<rect x="553.91" y="414" width="15.93" height="77.34" fill="#B3B7EF"/>
<rect x="573.17" y="404.16" width="16.13" height="87.19" fill="#FF9AA2"/>
<rect x="589.3" y="410.11" width="15.93" height="81.24" fill="#B3B7EF"/>
<rect x="608.57" y="404.98" width="16.13" height="86.37" fill="#FF9AA2"/>
<rect x="624.69" y="410.52" width="15.93" height="80.83" fill="#B3B7EF"/>
<rect x="532.6" y="400.6" width="113.2" height="94.8" fill="none" stroke="#333" stroke-width="0.56"/>
<path d="M531.35 400.46H532.85M531.35 423.24H532.85M531.35 446.01H532.85M531.35 468.57H532.85M531.35 491.34H532.85M553.91 495.9V497.4M589.3 495.9V497.4M624.69 495.9V497.4" stroke="#333" stroke-width="0.56" fill="none"/>
<text x="530" y="493.19" text-anchor="end" font-size="5.48" fill="#000" stroke="#000" stroke-width="0.06">0</text>
<text x="530" y="470.42" text-anchor="end" font-size="5.48" fill="#000" stroke="#000" stroke-width="0.06">25</text>
<text x="530" y="447.86" text-anchor="end" font-size="5.48" fill="#000" stroke="#000" stroke-width="0.06">50</text>
<text x="530" y="425.09" text-anchor="end" font-size="5.48" fill="#000" stroke="#000" stroke-width="0.06">75</text>
<text x="530" y="402.31" text-anchor="end" font-size="5.48" fill="#000" stroke="#000" stroke-width="0.06">100</text>
<text x="554.01" y="502" text-anchor="end" font-size="5.48" fill="#000" stroke="#000" stroke-width="0.06">1990</text>
<text x="589.4" y="502" text-anchor="end" font-size="5.48" fill="#000" stroke="#000" stroke-width="0.06">2019</text>
<text x="624.79" y="502" text-anchor="end" font-size="5.48" fill="#000" stroke="#000" stroke-width="0.06">2021</text>
<text x="589.3" y="394.05" text-anchor="middle" font-size="6.38" fill="#000">Bipolar disorder</text>
<rect x="23.5" y="523.45" width="112.9" height="95.85" fill="#fff"/>
<path d="M23.5 539.15H136.4M23.5 560.79H136.4M23.5 582.43H136.4M23.5 603.97H136.4M26.86 523.45V619.3M62.25 523.45V619.3M97.65 523.45V619.3M133.04 523.45V619.3" stroke="#E9E9E9" stroke-width="0.35" fill="none"/>
<path d="M23.5 528.38H136.4M23.5 549.92H136.4M23.5 571.66H136.4M23.5 593.2H136.4M23.5 614.74H136.4M44.56 523.45V619.3M79.95 523.45V619.3M115.34 523.45V619.3" stroke="#E9E9E9" stroke-width="0.6" fill="none"/>
<rect x="28.43" y="540.07" width="16.13" height="74.67" fill="#FF9AA2"/>
<rect x="44.56" y="576.18" width="15.93" height="38.57" fill="#B3B7EF"/>
<rect x="63.82" y="527.56" width="16.13" height="87.19" fill="#FF9AA2"/>
<rect x="79.95" y="568.18" width="15.93" height="46.57" fill="#B3B7EF"/>
<rect x="99.22" y="528.58" width="16.13" height="86.16" fill="#FF9AA2"/>
<rect x="115.34" y="568.18" width="15.93" height="46.57" fill="#B3B7EF"/>
<rect x="23.5" y="523.5" width="113" height="95" fill="none" stroke="#333" stroke-width="0.56"/>
<path d="M22 528.38H23.5M22 549.92H23.5M22 571.66H23.5M22 593.2H23.5M22 614.74H23.5M44.56 619.3V620.8M79.95 619.3V620.8M115.34 619.3V620.8" stroke="#333" stroke-width="0.56" fill="none"/>
<text x="20.65" y="616.59" text-anchor="end" font-size="5.48" fill="#000" stroke="#000" stroke-width="0.06">0</text>
<text x="20.65" y="595.05" text-anchor="end" font-size="5.48" fill="#000" stroke="#000" stroke-width="0.06">25</text>
<text x="20.65" y="573.51" text-anchor="end" font-size="5.48" fill="#000" stroke="#000" stroke-width="0.06">50</text>
<text x="20.65" y="551.77" text-anchor="end" font-size="5.48" fill="#000" stroke="#000" stroke-width="0.06">75</text>
<text x="20.65" y="530.23" text-anchor="end" font-size="5.48" fill="#000" stroke="#000" stroke-width="0.06">100</text>
<text x="44.66" y="625.4" text-anchor="end" font-size="5.48" fill="#000" stroke="#000" stroke-width="0.06">1990</text>
<text x="80.05" y="625.4" text-anchor="end" font-size="5.48" fill="#000" stroke="#000" stroke-width="0.06">2019</text>
<text x="115.44" y="625.4" text-anchor="end" font-size="5.48" fill="#000" stroke="#000" stroke-width="0.06">2021</text>
<text x="79.95" y="517.45" text-anchor="middle" font-size="6.38" fill="#000">Eating disorders</text>
<rect x="150.85" y="523.45" width="112.9" height="95.85" fill="#fff"/>
<path d="M150.85 537.2H263.75M150.85 559.35H263.75M150.85 581.51H263.75M150.85 603.67H263.75M154.21 523.45V619.3M189.6 523.45V619.3M225 523.45V619.3M260.39 523.45V619.3" stroke="#E9E9E9" stroke-width="0.35" fill="none"/>
<path d="M150.85 526.12H263.75M150.85 548.28H263.75M150.85 570.43H263.75M150.85 592.59H263.75M150.85 614.74H263.75M171.91 523.45V619.3M207.3 523.45V619.3M242.69 523.45V619.3" stroke="#E9E9E9" stroke-width="0.6" fill="none"/>
<rect x="155.78" y="538.02" width="16.13" height="76.72" fill="#FF9AA2"/>
<rect x="171.91" y="527.76" width="15.93" height="86.98" fill="#B3B7EF"/>
<rect x="191.17" y="540.89" width="16.13" height="73.85" fill="#FF9AA2"/>
<rect x="207.3" y="530.22" width="15.93" height="84.52" fill="#B3B7EF"/>
<rect x="226.57" y="541.92" width="16.13" height="72.83" fill="#FF9AA2"/>
<rect x="242.69" y="531.04" width="15.93" height="83.7" fill="#B3B7EF"/>
<rect x="150.6" y="523.5" width="112.9" height="95" fill="none" stroke="#333" stroke-width="0.56"/>
<path d="M149.35 526.12H150.85M149.35 548.28H150.85M149.35 570.43H150.85M149.35 592.59H150.85M149.35 614.74H150.85M171.91 619.3V620.8M207.3 619.3V620.8M242.69 619.3V620.8" stroke="#333" stroke-width="0.56" fill="none"/>
<text x="148" y="616.59" text-anchor="end" font-size="5.48" fill="#000" stroke="#000" stroke-width="0.06">0</text>
<text x="148" y="594.44" text-anchor="end" font-size="5.48" fill="#000" stroke="#000" stroke-width="0.06">20</text>
<text x="148" y="572.28" text-anchor="end" font-size="5.48" fill="#000" stroke="#000" stroke-width="0.06">40</text>
<text x="148" y="550.13" text-anchor="end" font-size="5.48" fill="#000" stroke="#000" stroke-width="0.06">60</text>
<text x="148" y="527.97" text-anchor="end" font-size="5.48" fill="#000" stroke="#000" stroke-width="0.06">80</text>
<text x="172.01" y="625.4" text-anchor="end" font-size="5.48" fill="#000" stroke="#000" stroke-width="0.06">1990</text>
<text x="207.4" y="625.4" text-anchor="end" font-size="5.48" fill="#000" stroke="#000" stroke-width="0.06">2019</text>
<text x="242.79" y="625.4" text-anchor="end" font-size="5.48" fill="#000" stroke="#000" stroke-width="0.06">2021</text>
<text x="207.3" y="517.45" text-anchor="middle" font-size="6.38" fill="#000">Schizophrenia</text>
<rect x="278.17" y="523.45" width="112.9" height="95.85" fill="#fff"/>
<path d="M278.17 554.74H391.07M278.17 578.74H391.07M278.17 602.74H391.07M278.17 530.74H391.07M281.53 523.45V619.3M316.92 523.45V619.3M352.32 523.45V619.3M387.71 523.45V619.3" stroke="#E9E9E9" stroke-width="0.35" fill="none"/>
<path d="M278.17 542.74H391.07M278.17 566.74H391.07M278.17 590.74H391.07M278.17 614.74H391.07M299.23 523.45V619.3M334.62 523.45V619.3M370.01 523.45V619.3" stroke="#E9E9E9" stroke-width="0.6" fill="none"/>
<rect x="283.1" y="532.69" width="16.13" height="82.06" fill="#FF9AA2"/>
<rect x="299.23" y="527.76" width="15.93" height="86.98" fill="#B3B7EF"/>
<rect x="318.49" y="533.1" width="16.13" height="81.65" fill="#FF9AA2"/>
<rect x="334.62" y="535.35" width="15.93" height="79.39" fill="#B3B7EF"/>
<rect x="353.89" y="533.1" width="16.13" height="81.65" fill="#FF9AA2"/>
<rect x="370.01" y="535.76" width="15.93" height="78.98" fill="#B3B7EF"/>
<rect x="278.1" y="523.5" width="112.6" height="95" fill="none" stroke="#333" stroke-width="0.56"/>
<path d="M276.67 542.74H278.17M276.67 566.74H278.17M276.67 590.74H278.17M276.67 614.74H278.17M299.23 619.3V620.8M334.62 619.3V620.8M370.01 619.3V620.8" stroke="#333" stroke-width="0.56" fill="none"/>
<text x="275.32" y="616.59" text-anchor="end" font-size="5.48" fill="#000" stroke="#000" stroke-width="0.06">0</text>
<text x="275.32" y="592.59" text-anchor="end" font-size="5.48" fill="#000" stroke="#000" stroke-width="0.06">20</text>
<text x="275.32" y="568.59" text-anchor="end" font-size="5.48" fill="#000" stroke="#000" stroke-width="0.06">40</text>
<text x="275.32" y="544.59" text-anchor="end" font-size="5.48" fill="#000" stroke="#000" stroke-width="0.06">60</text>
<text x="299.33" y="625.4" text-anchor="end" font-size="5.48" fill="#000" stroke="#000" stroke-width="0.06">1990</text>
<text x="334.72" y="625.4" text-anchor="end" font-size="5.48" fill="#000" stroke="#000" stroke-width="0.06">2019</text>
<text x="370.11" y="625.4" text-anchor="end" font-size="5.48" fill="#000" stroke="#000" stroke-width="0.06">2021</text>
<text x="334.62" y="513.75" text-anchor="middle" font-size="6.38" fill="#000">Idiopathic developmental</text>
<text x="334.62" y="520.45" text-anchor="middle" font-size="6.38" fill="#000">intellectual disability</text>
<rect x="405.5" y="523.45" width="112.9" height="95.85" fill="#fff"/>
<path d="M405.5 543.87H518.4M405.5 564.18H518.4M405.5 584.38H518.4M405.5 604.59H518.4M405.5 523.56H518.4M408.86 523.45V619.3M444.25 523.45V619.3M479.65 523.45V619.3M515.04 523.45V619.3" stroke="#E9E9E9" stroke-width="0.35" fill="none"/>
<path d="M405.5 533.71H518.4M405.5 554.02H518.4M405.5 574.33H518.4M405.5 594.43H518.4M405.5 614.74H518.4M426.56 523.45V619.3M461.95 523.45V619.3M497.34 523.45V619.3" stroke="#E9E9E9" stroke-width="0.6" fill="none"/>
<rect x="410.43" y="580.07" width="16.13" height="34.67" fill="#FF9AA2"/>
<rect x="426.56" y="527.76" width="15.93" height="86.98" fill="#B3B7EF"/>
<rect x="445.82" y="584.18" width="16.13" height="30.57" fill="#FF9AA2"/>
<rect x="461.95" y="538.84" width="15.93" height="75.9" fill="#B3B7EF"/>
<rect x="481.22" y="584.38" width="16.13" height="30.36" fill="#FF9AA2"/>
<rect x="497.34" y="538.63" width="15.93" height="76.11" fill="#B3B7EF"/>
<rect x="405.4" y="523.5" width="113" height="95" fill="none" stroke="#333" stroke-width="0.56"/>
<path d="M404 533.71H405.5M404 554.02H405.5M404 574.33H405.5M404 594.43H405.5M404 614.74H405.5M426.56 619.3V620.8M461.95 619.3V620.8M497.34 619.3V620.8" stroke="#333" stroke-width="0.56" fill="none"/>
<text x="402.65" y="616.59" text-anchor="end" font-size="5.48" fill="#000" stroke="#000" stroke-width="0.06">0</text>
<text x="402.65" y="596.28" text-anchor="end" font-size="5.48" fill="#000" stroke="#000" stroke-width="0.06">10</text>
<text x="402.65" y="576.18" text-anchor="end" font-size="5.48" fill="#000" stroke="#000" stroke-width="0.06">20</text>
<text x="402.65" y="555.87" text-anchor="end" font-size="5.48" fill="#000" stroke="#000" stroke-width="0.06">30</text>
<text x="402.65" y="535.56" text-anchor="end" font-size="5.48" fill="#000" stroke="#000" stroke-width="0.06">40</text>
<text x="426.66" y="625.4" text-anchor="end" font-size="5.48" fill="#000" stroke="#000" stroke-width="0.06">1990</text>
<text x="462.05" y="625.4" text-anchor="end" font-size="5.48" fill="#000" stroke="#000" stroke-width="0.06">2019</text>
<text x="497.44" y="625.4" text-anchor="end" font-size="5.48" fill="#000" stroke="#000" stroke-width="0.06">2021</text>
<text x="461.95" y="517.45" text-anchor="middle" font-size="6.38" fill="#000">Attention−deficit/hyperactivity disorder</text>
<rect x="532.85" y="523.45" width="112.9" height="95.85" fill="#fff"/>
<path d="M532.85 547.35H645.75M532.85 566.74H645.75M532.85 585.92H645.75M532.85 605.1H645.75M532.85 527.86H645.75M536.21 523.45V619.3M571.6 523.45V619.3M607 523.45V619.3M642.39 523.45V619.3" stroke="#E9E9E9" stroke-width="0.35" fill="none"/>
<path d="M532.85 537.61H645.75M532.85 557.1H645.75M532.85 576.38H645.75M532.85 595.46H645.75M532.85 614.74H645.75M553.91 523.45V619.3M589.3 523.45V619.3M624.69 523.45V619.3" stroke="#E9E9E9" stroke-width="0.6" fill="none"/>
<rect x="537.78" y="560.17" width="16.13" height="54.57" fill="#FF9AA2"/>
<rect x="553.91" y="527.97" width="15.93" height="86.78" fill="#B3B7EF"/>
<rect x="573.17" y="559.97" width="16.13" height="54.77" fill="#FF9AA2"/>
<rect x="589.3" y="527.76" width="15.93" height="86.98" fill="#B3B7EF"/>
<rect x="608.57" y="560.38" width="16.13" height="54.36" fill="#FF9AA2"/>
<rect x="624.69" y="528.17" width="15.93" height="86.57" fill="#B3B7EF"/>
<rect x="532.6" y="523.5" width="113.2" height="95" fill="none" stroke="#333" stroke-width="0.56"/>
<path d="M531.35 537.61H532.85M531.35 557.1H532.85M531.35 576.38H532.85M531.35 595.46H532.85M531.35 614.74H532.85M553.91 619.3V620.8M589.3 619.3V620.8M624.69 619.3V620.8" stroke="#333" stroke-width="0.56" fill="none"/>
<text x="530" y="616.59" text-anchor="end" font-size="5.48" fill="#000" stroke="#000" stroke-width="0.06">0</text>
<text x="530" y="597.31" text-anchor="end" font-size="5.48" fill="#000" stroke="#000" stroke-width="0.06">10</text>
<text x="530" y="578.23" text-anchor="end" font-size="5.48" fill="#000" stroke="#000" stroke-width="0.06">20</text>
<text x="530" y="558.95" text-anchor="end" font-size="5.48" fill="#000" stroke="#000" stroke-width="0.06">30</text>
<text x="530" y="539.46" text-anchor="end" font-size="5.48" fill="#000" stroke="#000" stroke-width="0.06">40</text>
<text x="554.01" y="625.4" text-anchor="end" font-size="5.48" fill="#000" stroke="#000" stroke-width="0.06">1990</text>
<text x="589.4" y="625.4" text-anchor="end" font-size="5.48" fill="#000" stroke="#000" stroke-width="0.06">2019</text>
<text x="624.79" y="625.4" text-anchor="end" font-size="5.48" fill="#000" stroke="#000" stroke-width="0.06">2021</text>
<text x="589.3" y="517.45" text-anchor="middle" font-size="6.38" fill="#000">Other mental disorders</text>
<rect x="23.5" y="646.85" width="112.9" height="95.85" fill="#fff"/>
<path d="M23.5 669.98H136.4M23.5 697.22H136.4M23.5 724.47H136.4M26.86 646.85V742.7M62.25 646.85V742.7M97.65 646.85V742.7M133.04 646.85V742.7" stroke="#E9E9E9" stroke-width="0.35" fill="none"/>
<path d="M23.5 656.3H136.4M23.5 683.65H136.4M23.5 710.79H136.4M23.5 738.14H136.4M44.56 646.85V742.7M79.95 646.85V742.7M115.34 646.85V742.7" stroke="#E9E9E9" stroke-width="0.6" fill="none"/>
<rect x="28.43" y="708.12" width="16.13" height="30.02" fill="#FF9AA2"/>
<rect x="44.56" y="650.96" width="15.93" height="87.19" fill="#B3B7EF"/>
<rect x="63.82" y="715.11" width="16.13" height="23.03" fill="#FF9AA2"/>
<rect x="79.95" y="675.43" width="15.93" height="62.72" fill="#B3B7EF"/>
<rect x="99.22" y="716.14" width="16.13" height="22" fill="#FF9AA2"/>
<rect x="115.34" y="677.89" width="15.93" height="60.25" fill="#B3B7EF"/>
<rect x="23.5" y="646.9" width="113" height="95.6" fill="none" stroke="#333" stroke-width="0.56"/>
<path d="M22 656.3H23.5M22 683.65H23.5M22 710.79H23.5M22 738.14H23.5M44.56 742.7V744.2M79.95 742.7V744.2M115.34 742.7V744.2" stroke="#333" stroke-width="0.56" fill="none"/>
<text x="20.65" y="739.99" text-anchor="end" font-size="5.48" fill="#000" stroke="#000" stroke-width="0.06">0</text>
<text x="20.65" y="712.64" text-anchor="end" font-size="5.48" fill="#000" stroke="#000" stroke-width="0.06">50</text>
<text x="20.65" y="685.5" text-anchor="end" font-size="5.48" fill="#000" stroke="#000" stroke-width="0.06">100</text>
<text x="20.65" y="658.15" text-anchor="end" font-size="5.48" fill="#000" stroke="#000" stroke-width="0.06">150</text>
<text x="44.66" y="748.8" text-anchor="end" font-size="5.48" fill="#000" stroke="#000" stroke-width="0.06">1990</text>
<text x="80.05" y="748.8" text-anchor="end" font-size="5.48" fill="#000" stroke="#000" stroke-width="0.06">2019</text>
<text x="115.44" y="748.8" text-anchor="end" font-size="5.48" fill="#000" stroke="#000" stroke-width="0.06">2021</text>
<text x="79.95" y="640.85" text-anchor="middle" font-size="6.38" fill="#000">Alcohol use disorders</text>
<rect x="150.85" y="646.85" width="112.9" height="95.85" fill="#fff"/>
<path d="M150.85 661.96H263.75M150.85 683.65H263.75M150.85 705.45H263.75M150.85 727.24H263.75M154.21 646.85V742.7M189.6 646.85V742.7M225 646.85V742.7M260.39 646.85V742.7" stroke="#E9E9E9" stroke-width="0.35" fill="none"/>
<path d="M150.85 651.16H263.75M150.85 672.75H263.75M150.85 694.55H263.75M150.85 716.35H263.75M150.85 738.14H263.75M171.91 646.85V742.7M207.3 646.85V742.7M242.69 646.85V742.7" stroke="#E9E9E9" stroke-width="0.6" fill="none"/>
<rect x="155.78" y="675.43" width="16.13" height="62.72" fill="#FF9AA2"/>
<rect x="171.91" y="650.96" width="15.93" height="87.19" fill="#B3B7EF"/>
<rect x="191.17" y="685.91" width="16.13" height="52.23" fill="#FF9AA2"/>
<rect x="207.3" y="656.71" width="15.93" height="81.43" fill="#B3B7EF"/>
<rect x="226.57" y="685.5" width="16.13" height="52.64" fill="#FF9AA2"/>
<rect x="242.69" y="656.92" width="15.93" height="81.22" fill="#B3B7EF"/>
<rect x="150.6" y="646.9" width="112.9" height="95.6" fill="none" stroke="#333" stroke-width="0.56"/>
<path d="M149.35 651.16H150.85M149.35 672.75H150.85M149.35 694.55H150.85M149.35 716.35H150.85M149.35 738.14H150.85M171.91 742.7V744.2M207.3 742.7V744.2M242.69 742.7V744.2" stroke="#333" stroke-width="0.56" fill="none"/>
<text x="148" y="739.99" text-anchor="end" font-size="5.48" fill="#000" stroke="#000" stroke-width="0.06">0</text>
<text x="148" y="718.2" text-anchor="end" font-size="5.48" fill="#000" stroke="#000" stroke-width="0.06">50</text>
<text x="148" y="696.4" text-anchor="end" font-size="5.48" fill="#000" stroke="#000" stroke-width="0.06">100</text>
<text x="148" y="674.6" text-anchor="end" font-size="5.48" fill="#000" stroke="#000" stroke-width="0.06">150</text>
<text x="148" y="653.01" text-anchor="end" font-size="5.48" fill="#000" stroke="#000" stroke-width="0.06">200</text>
<text x="172.01" y="748.8" text-anchor="end" font-size="5.48" fill="#000" stroke="#000" stroke-width="0.06">1990</text>
<text x="207.4" y="748.8" text-anchor="end" font-size="5.48" fill="#000" stroke="#000" stroke-width="0.06">2019</text>
<text x="242.79" y="748.8" text-anchor="end" font-size="5.48" fill="#000" stroke="#000" stroke-width="0.06">2021</text>
<text x="207.3" y="640.85" text-anchor="middle" font-size="6.38" fill="#000">Drug use disorders</text>
<rect x="278.17" y="646.85" width="112.9" height="95.85" fill="#fff"/>
<path d="M278.17 679.03H391.07M278.17 702.67H391.07M278.17 726.32H391.07M278.17 655.38H391.07M281.53 646.85V742.7M316.92 646.85V742.7M352.32 646.85V742.7M387.71 646.85V742.7" stroke="#E9E9E9" stroke-width="0.35" fill="none"/>
<path d="M278.17 667.2H391.07M278.17 690.85H391.07M278.17 714.5H391.07M278.17 738.14H391.07M299.23 646.85V742.7M334.62 646.85V742.7M370.01 646.85V742.7" stroke="#E9E9E9" stroke-width="0.6" fill="none"/>
<rect x="283.1" y="661.86" width="16.13" height="76.29" fill="#FF9AA2"/>
<rect x="299.23" y="650.96" width="15.93" height="87.19" fill="#B3B7EF"/>
<rect x="318.49" y="699.07" width="16.13" height="39.07" fill="#FF9AA2"/>
<rect x="334.62" y="675.84" width="15.93" height="62.31" fill="#B3B7EF"/>
<rect x="353.89" y="698.05" width="16.13" height="40.1" fill="#FF9AA2"/>
<rect x="370.01" y="678.72" width="15.93" height="59.43" fill="#B3B7EF"/>
<rect x="278.1" y="646.9" width="112.6" height="95.6" fill="none" stroke="#333" stroke-width="0.56"/>
<path d="M276.67 667.2H278.17M276.67 690.85H278.17M276.67 714.5H278.17M276.67 738.14H278.17M299.23 742.7V744.2M334.62 742.7V744.2M370.01 742.7V744.2" stroke="#333" stroke-width="0.56" fill="none"/>
<text x="275.32" y="739.99" text-anchor="end" font-size="5.48" fill="#000" stroke="#000" stroke-width="0.06">0</text>
<text x="275.32" y="716.35" text-anchor="end" font-size="5.48" fill="#000" stroke="#000" stroke-width="0.06">200</text>
<text x="275.32" y="692.7" text-anchor="end" font-size="5.48" fill="#000" stroke="#000" stroke-width="0.06">400</text>
<text x="275.32" y="669.05" text-anchor="end" font-size="5.48" fill="#000" stroke="#000" stroke-width="0.06">600</text>
<text x="299.33" y="748.8" text-anchor="end" font-size="5.48" fill="#000" stroke="#000" stroke-width="0.06">1990</text>
<text x="334.72" y="748.8" text-anchor="end" font-size="5.48" fill="#000" stroke="#000" stroke-width="0.06">2019</text>
<text x="370.11" y="748.8" text-anchor="end" font-size="5.48" fill="#000" stroke="#000" stroke-width="0.06">2021</text>
<text x="334.62" y="640.85" text-anchor="middle" font-size="6.38" fill="#000">Self−harm</text>
<text transform="translate(8.9 571.38) rotate(-90)" text-anchor="middle" font-size="7.37" font-weight="bold" fill="#000">DALYs (Disability−Adjusted Life Years) rate of aged 10−24 years</text>
<text x="334.62" y="756.5" text-anchor="middle" font-size="7.33" font-weight="bold" fill="#000">Year</text>
<text x="7.8" y="392.7" font-size="6.4" fill="#000">B</text>
<rect x="654.5" y="562.07" width="8.8" height="8.7" fill="#FF9AA2"/>
<rect x="654.5" y="571.88" width="8.8" height="8.7" fill="#B3B7EF"/>
<text x="666.3" y="568.17" font-size="4.77" fill="#000">Female</text>
<text x="666.3" y="577.58" font-size="4.77" fill="#000">Male</text>
</svg>
</body></html>
